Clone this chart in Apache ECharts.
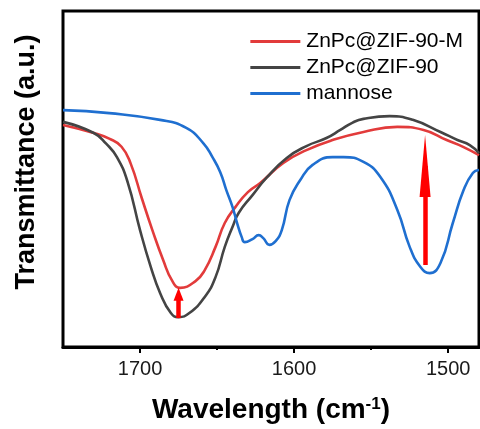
<!DOCTYPE html>
<html>
<head>
<meta charset="utf-8">
<script src="https://cdn.jsdelivr.net/npm/echarts@6/dist/echarts.min.js"></script>
<style>
  html, body { margin: 0; padding: 0; background: #fff; }
  #chart { width: 480px; height: 429px; }
</style>
</head>
<body>
<div id="chart"></div>
<script>
// wavenumber (cm-1) and transmittance (a.u., 0-100)
const wnM = [1750, 1730, 1720, 1712, 1706, 1699, 1692, 1685, 1679, 1674, 1664, 1658, 1651, 1645, 1638, 1630, 1622, 1607, 1592, 1575, 1555, 1533, 1516, 1501, 1490, 1480];
const tM = [66.1, 63.7, 62.0, 59.6, 54.5, 44.5, 34.8, 25.9, 19.6, 17.6, 19.6, 22.9, 29.8, 36.9, 41.7, 46.1, 48.8, 54.8, 58.6, 61.6, 64.0, 65.5, 64.6, 61.6, 59.5, 57.1];

const wn90 = [1750, 1730, 1722, 1715, 1708, 1700, 1693, 1687, 1680, 1675, 1668, 1658, 1651, 1645, 1640, 1636, 1627, 1618, 1605, 1592, 1579, 1570, 1562, 1555, 1538, 1523, 1505, 1494, 1486, 1480];
const t90 = [67.0, 63.7, 60.5, 56.5, 49.0, 34.8, 23.8, 16.1, 10.1, 8.9, 10.1, 14.9, 20.8, 29.8, 35.7, 39.9, 45.2, 50.3, 56.2, 59.8, 62.2, 64.6, 66.8, 67.9, 68.7, 67.6, 64.0, 61.6, 60.1, 57.7];

const wnMan = [1750, 1720, 1687, 1670, 1659, 1653, 1648, 1644, 1640, 1637, 1634, 1632, 1627, 1623, 1620, 1616, 1612, 1608, 1603, 1596, 1588, 1575, 1568, 1555, 1544, 1533, 1525, 1518, 1512, 1505, 1497, 1490, 1484, 1480];
const tMan = [70.5, 69.6, 67.6, 65.2, 60.7, 56.5, 52.1, 46.7, 41.7, 36.9, 32.7, 31.2, 32.1, 33.3, 32.4, 30.4, 31.5, 34.8, 43.7, 49.7, 54.2, 56.5, 56.5, 55.1, 50.6, 40.8, 29.8, 23.8, 22.0, 25.0, 36.9, 46.7, 51.8, 52.7];

const seriesNames = ['ZnPc@ZIF-90-M', 'ZnPc@ZIF-90', 'mannose'];
const xTicks = [1500, 1600, 1700];
const xMinorTicks = [1550, 1650];

// red arrows: position, shaft start, tip
const arrowWn = [1675, 1515];
const arrowFrom = [8.6, 24.4];
const arrowTip = [17.6, 63.1];
const arrowHead = [[10, 13], [11, 62]];

const zip = (xs, ys) => xs.map((x, i) => [x, ys[i]]);

const chart = echarts.init(document.getElementById('chart'), null, { renderer: 'canvas' });

const font = '"Liberation Sans", Arial, sans-serif';
const plotH = 429 - 11 - 82;
const pxToVal = 100 / plotH;

const arrowData = arrowWn.map((w, i) => {
  const centre = arrowTip[i] - arrowHead[i][1] / 2 * pxToVal;
  return [
    { coord: [w, arrowFrom[i]], symbol: 'none' },
    { coord: [w, centre], symbol: 'triangle', symbolSize: arrowHead[i] }
  ];
});

const lineSeries = (name, data, color) => ({
  name: name,
  type: 'line',
  data: data,
  smooth: 0.5,
  symbol: 'none',
  lineStyle: { color: color, width: 2.6 },
  itemStyle: { color: color }
});

const option = {
  animation: false,
  grid: {
    left: 63,
    right: 1,
    top: 11,
    bottom: 82,
    show: true,
    borderColor: '#000',
    borderWidth: 3,
    backgroundColor: 'transparent'
  },
  legend: {
    data: seriesNames,
    orient: 'vertical',
    right: 12,
    top: 25,
    icon: 'rect',
    itemWidth: 50,
    itemHeight: 3,
    itemGap: 3,
    align: 'left',
    textStyle: { fontFamily: font, fontSize: 21, color: '#000', padding: [0, 0, 0, 1], lineHeight: 23 }
  },
  xAxis: [{
    type: 'value',
    min: 1480,
    max: 1750,
    inverse: true,
    name: 'Wavelength (cm{sup|-1})',
    nameLocation: 'middle',
    nameGap: 49,
    nameTextStyle: {
      fontFamily: font,
      fontSize: 28,
      fontWeight: 'bold',
      color: '#000',
      rich: {
        sup: { fontFamily: font, fontSize: 17, fontWeight: 'bold', color: '#000', verticalAlign: 'top' }
      }
    },
    axisLine: { show: true, lineStyle: { color: '#000', width: 3 } },
    axisTick: { show: true, inside: false, length: 6, customValues: xTicks, lineStyle: { color: '#000', width: 2 } },
    axisLabel: {
      show: true,
      customValues: xTicks,
      margin: 12,
      fontFamily: font,
      fontSize: 20,
      color: '#1a1a1a',
      formatter: (v) => String(v)
    },
    splitLine: { show: false }
  }, {
    type: 'value',
    position: 'bottom',
    min: 1480,
    max: 1750,
    inverse: true,
    axisLine: { show: false },
    axisTick: { show: true, inside: false, length: 3, customValues: xMinorTicks, lineStyle: { color: '#000', width: 2 } },
    axisLabel: { show: false },
    splitLine: { show: false }
  }],
  yAxis: {
    type: 'value',
    min: 0,
    max: 100,
    axisLine: { show: false },
    axisTick: { show: false },
    axisLabel: { show: false },
    splitLine: { show: false }
  },
  graphic: [{
    type: 'text',
    x: 27,
    y: 162,
    rotation: Math.PI / 2,
    style: {
      text: 'Transmittance (a.u.)',
      font: 'bold 27px ' + font,
      fill: '#000',
      textAlign: 'center',
      textVerticalAlign: 'middle'
    }
  }],
  series: [
    lineSeries(seriesNames[0], zip(wnM, tM), '#e23b3b'),
    lineSeries(seriesNames[1], zip(wn90, t90), '#444444'),
    lineSeries(seriesNames[2], zip(wnMan, tMan), '#1f6fd0'),
    {
      name: 'arrows',
      type: 'line',
      data: [],
      silent: true,
      markLine: {
        silent: true,
        animation: false,
        label: { show: false },
        lineStyle: { color: '#ff0000', width: 4.5, type: 'solid' },
        itemStyle: { color: '#ff0000' },
        emphasis: { disabled: true },
        data: arrowData
      }
    }
  ]
};

chart.setOption(option);
</script>
</body>
</html>
